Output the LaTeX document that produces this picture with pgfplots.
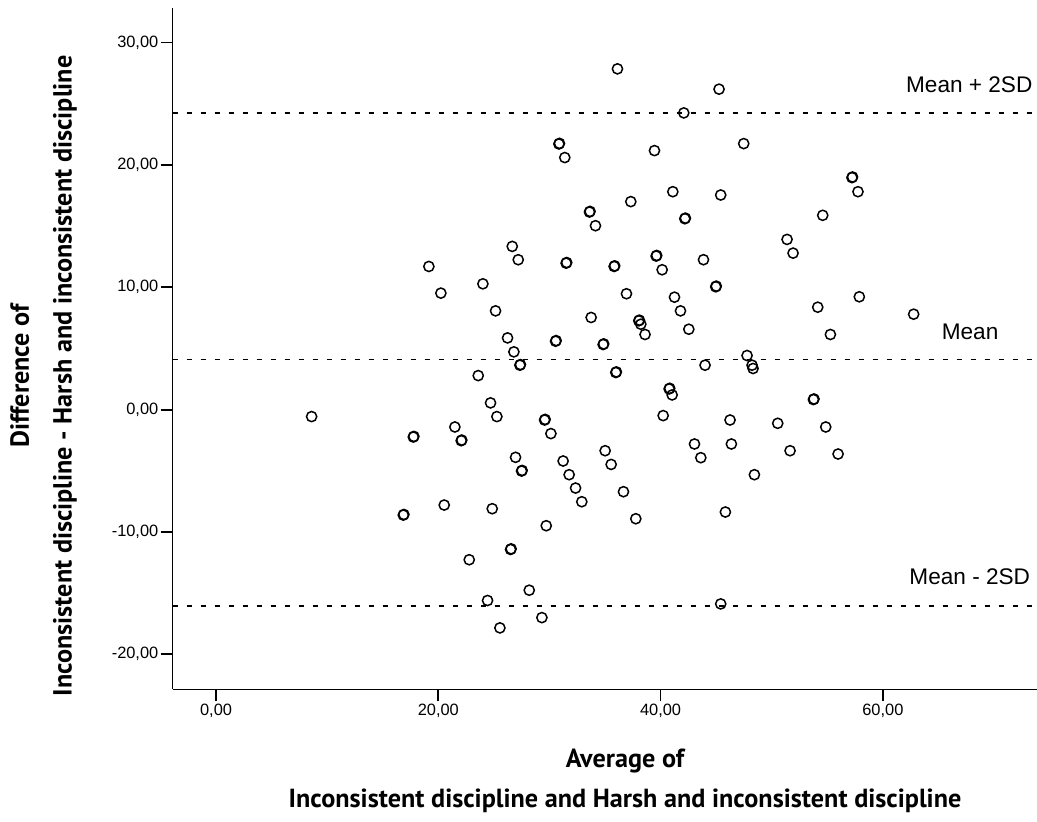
\documentclass[border=0pt]{standalone}
\usepackage{pgfplots}
\pgfplotsset{compat=1.18}
\usepackage{fontspec}
\setmainfont{Liberation Sans}
\newfontfamily\labfont{PT Sans}
\pgfplotstableread{
x y
30.85 21.71
30.90 21.76
31.38 20.6
33.6 16.15
33.65 16.2
34.14 15.03
26.65 13.34
27.19 12.25
31.5 11.97
31.55 12.02
19.15 11.70
24.01 10.28
20.23 9.52
25.15 8.07
33.75 7.53
26.23 5.86
30.55 5.59
30.6 5.64
34.83 5.32
34.88 5.37
36.12 27.85
45.26 26.19
42.09 24.25
39.45 21.17
47.48 21.74
57.22 18.96
57.27 19.01
57.76 17.81
41.1 17.81
45.41 17.54
37.32 17.0
42.18 15.6
42.23 15.65
54.59 15.88
51.38 13.91
51.92 12.79
39.6 12.55
39.65 12.6
43.86 12.25
40.14 11.43
35.82 11.70
35.87 11.75
44.96 10.04
45.01 10.09
36.93 9.47
41.25 9.19
41.79 8.07
54.14 8.37
57.88 9.22
62.77 7.80
38.04 7.26
38.09 7.31
38.22 6.98
38.6 6.14
42.54 6.57
55.28 6.14
26.8 4.72
27.34 3.63
27.39 3.68
23.59 2.78
24.7 0.55
25.27 -0.57
8.6 -0.57
29.56 -0.85
29.61 -0.8
30.13 -1.96
21.49 -1.42
17.75 -2.24
17.8 -2.19
22.06 -2.54
22.11 -2.49
26.95 -3.9
27.49 -5.02
27.54 -4.97
31.23 -4.2
31.77 -5.32
32.35 -6.41
32.91 -7.53
35.01 -3.36
35.55 -4.48
16.85 -8.62
16.9 -8.57
20.53 -7.8
24.85 -8.1
29.71 -9.49
26.5 -11.43
26.55 -11.38
22.78 -12.27
28.18 -14.76
24.43 -15.6
29.32 -17.0
25.54 -17.84
47.78 4.42
48.23 3.63
48.32 3.36
44.0 3.63
35.97 3.03
36.02 3.08
40.77 1.69
40.82 1.74
41.04 1.2
40.23 -0.49
46.25 -0.85
50.54 -1.12
53.75 0.82
53.8 0.87
54.86 -1.42
43.05 -2.81
46.37 -2.81
43.62 -3.93
51.65 -3.36
55.97 -3.63
36.66 -6.71
37.77 -8.92
48.44 -5.32
45.83 -8.37
45.41 -15.88
}\pts
\begin{document}
\begin{tikzpicture}
\path[use as bounding box] (0,0) rectangle (518.5pt,410.5pt);
\begin{axis}[
  at={(86.35pt,65.85pt)}, anchor=south west,
  scale only axis, width=432.15pt, height=340.5pt,
  xmin=-3.9, xmax=73.87, ymin=-22.86, ymax=32.8,
  axis lines*=left,
  axis line style={line width=0.7pt, black},
  xtick={0,20,40,60}, ytick={-20,-10,0,10,20,30},
  minor tick num=0,
  tick align=outside, major tick length=6pt,
  tick style={line width=0.9pt, black},
  ticklabel style={font=\fontsize{8.2}{10}\selectfont, inner sep=1pt},
  /pgf/number format/fixed,
  /pgf/number format/fixed zerofill,
  /pgf/number format/precision=2,
  /pgf/number format/use comma,
  /pgf/number format/assume math mode=true,
  clip=false,
]
\addplot[black, line width=0.85pt, dash pattern=on 2.5pt off 4.5pt] coordinates {(-3.9,24.25) (73.87,24.25)};
\addplot[black, line width=0.85pt, dash pattern=on 2.5pt off 4.5pt] coordinates {(-3.9,4.1) (73.87,4.1)};
\addplot[black, line width=0.85pt, dash pattern=on 2.5pt off 4.5pt] coordinates {(-3.9,-16.05) (73.87,-16.05)};
\addplot[only marks, mark=o, mark size=2.55pt, mark options={line width=0.75pt, black}] table[x=x,y=y] {\pts};
\node[anchor=base east, inner sep=0pt, font=\fontsize{11.3}{13}\selectfont] at (axis cs:73.49,25.92) {Mean + 2SD};
\node[anchor=base east, inner sep=0pt, font=\fontsize{11.3}{13}\selectfont] at (axis cs:70.43,5.73) {Mean};
\node[anchor=base east, inner sep=0pt, font=\fontsize{11.3}{13}\selectfont] at (axis cs:73.28,-14.32) {Mean - 2SD};
\end{axis}
\node[rotate=90, align=center, inner sep=0pt, font=\labfont\bfseries\fontsize{13.1}{21.4}\selectfont] at (21.8pt,222.5pt) {Difference of\\Inconsistent discipline - Harsh and inconsistent discipline};
\node[align=center, inner sep=0pt, font=\labfont\bfseries\fontsize{13.1}{20.3}\selectfont] at (312.5pt,20pt) {Average of\\Inconsistent discipline and Harsh and inconsistent discipline};
\end{tikzpicture}
\end{document}
